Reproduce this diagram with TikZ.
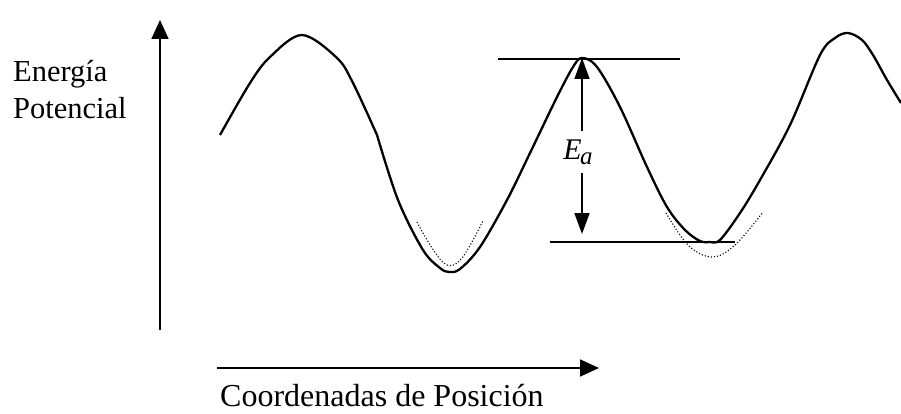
\documentclass[tikz,border=0pt]{standalone}
\usepackage{fontspec}
\setmainfont{Liberation Serif}
\usetikzlibrary{arrows.meta}
\tikzset{
  curve/.style={line width=2.3pt, line join=round},
  axis/.style={line width=1.8pt, -{Triangle[length=19pt,width=17pt]}},
  level/.style={line width=2pt},
  dotcurve/.style={line width=1.1pt, dash pattern=on 1.1pt off 2pt},
  lbl/.style={font=\fontsize{30.5}{37}\selectfont, inner sep=0pt},
  xlbl/.style={font=\fontsize{32}{38}\selectfont, inner sep=0pt},
  ea/.style={line width=1.8pt, -{Triangle[length=21pt,width=15pt]}}
}
\begin{document}
\begin{tikzpicture}[x=1pt,y=-1pt]
\useasboundingbox (0,0) rectangle (901,414);
% axes
\coordinate (yb) at (160,330);
\coordinate (yt) at (160,20);
\coordinate (xl) at (217,368);
\coordinate (xr) at (599,368);
\draw[axis] (yb) -- (yt);
\draw[axis] (xl) -- (xr);
\node[lbl, anchor=base west] (ylab) at (13,82) {Energía};
\node[lbl, anchor=base west] (ylab2) at (13,119) {Potencial};
\node[xlbl, anchor=base west] (xlab) at (220,406) {Coordenadas de Posición};
% energy curve
\draw[curve] plot[smooth, tension=0.55] coordinates {(220,135) (250,83) (270,57) (302,35) (337,58) (353,83) (377,135)};
\draw[curve] plot[smooth, tension=0.55] coordinates {(377,135) (398,200) (423,250) (440,268) (449,272) (460,269) (480,247) (507,200) (530,153) (557,97) (573,67) (582,58) (597,67) (620,107) (647,167) (667,207) (685,230) (700,241) (710,242) (720,240) (740,213) (760,180) (790,125) (820,55) (835,38) (848,33) (862,40) (873,55) (887,80) (901,103)};
% dotted harmonic approximations
\draw[dotcurve] plot[smooth, tension=0.6] coordinates {(417,222) (432,248) (447,265) (462,258) (483,221)};
\draw[dotcurve] plot[smooth, tension=0.6] coordinates {(666,213) (688,245) (712,257) (735,245) (763,212)};
% levels
\coordinate (tl) at (498,59);
\coordinate (tr) at (680,59);
\coordinate (bl) at (550,242);
\coordinate (br) at (735,242);
\draw[level] (tl) -- (tr);
\draw[level] (bl) -- (br);
% activation energy
\node[inner sep=0pt, font=\fontsize{30}{36}\selectfont\itshape] (ea) at (578,152) {E\kern-1.5pt\raisebox{-5pt}{\fontsize{25}{30}\selectfont a}};
\coordinate (eatop) at (582,58);
\coordinate (eabot) at (582,234);
\coordinate (eau) at (582,131);
\coordinate (ead) at (582,173);
\draw[ea] (eau) -- (eatop);
\draw[ea] (ead) -- (eabot);
\end{tikzpicture}
\end{document}
